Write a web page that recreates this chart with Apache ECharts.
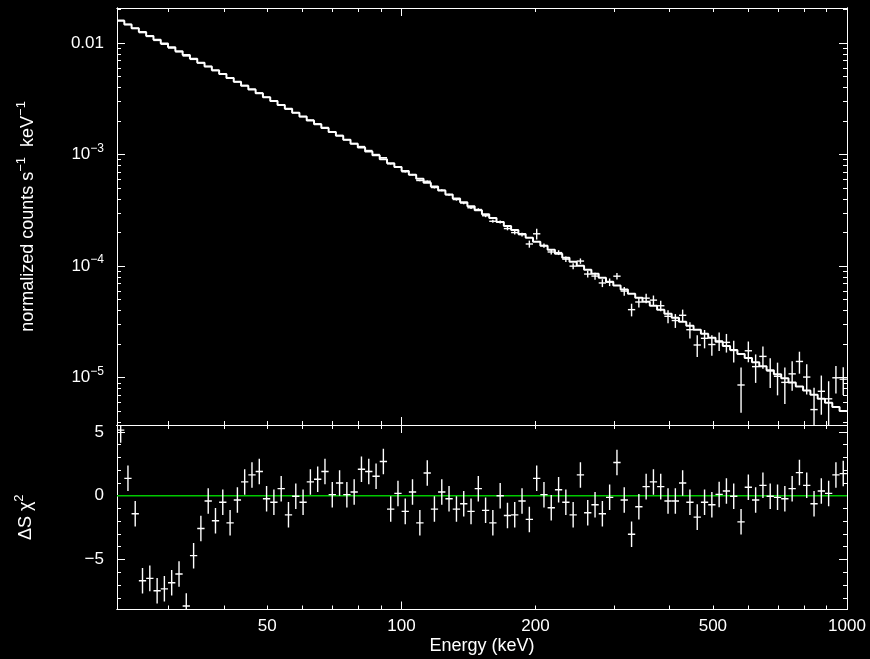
<!DOCTYPE html>
<html><head><meta charset="utf-8">
<script src="https://cdn.jsdelivr.net/npm/echarts@6/dist/echarts.min.js"></script>
<style>html,body{margin:0;padding:0;background:#000;}#c{width:870px;height:659px;}</style>
</head><body><div id="c"></div>
<script>
// Bin centre energies (keV)
const energy = [23.44,24.34,25.27,26.24,27.25,28.30,29.38,30.51,31.69,32.90,
34.17,35.48,36.85,38.26,39.73,41.26,42.85,44.49,46.20,47.98,
49.82,51.74,53.73,55.79,57.94,60.16,62.48,64.88,67.37,69.96,
72.65,75.44,78.34,81.35,84.48,87.73,91.10,94.62,98.24,102.0,
105.9,110.0,114.3,118.6,123.2,127.9,132.9,138.0,143.3,148.8,
154.5,160.4,166.6,173.0,179.6,186.5,193.7,201.2,208.9,216.9,
225.3,233.9,242.9,252.2,261.9,272.0,282.5,293.3,304.6,316.3,
328.5,341.1,354.2,367.8,381.9,396.6,411.9,427.7,444.1,461.2,
479.0,497.4,516.5,536.3,556.9,578.4,600.6,623.7,647.6,672.5,
698.4,725.3,753.2,782.1,812.1,843.4,875.8,909.5,944.4,980.8];

// Folded model (normalized counts s^-1 keV^-1)
const model = [0.01585,0.01465,0.01355,0.01253,0.01158,0.01070,0.009895,0.009150,0.008455,0.007812,
0.007219,0.006672,0.006167,0.005697,0.005264,0.004862,0.004492,0.004148,0.003834,0.003540,
0.003268,0.003019,0.002788,0.002574,0.002377,0.002195,0.002026,0.001870,0.001727,0.001594,
0.001472,0.001358,0.001253,0.001157,0.001067,0.0009847,0.0009085,0.0008381,0.0007734,0.0007136,
0.0006580,0.0006068,0.0005598,0.0005164,0.0004763,0.0004391,0.0004048,0.0003733,0.0003442,0.0003173,
0.0002924,0.0002696,0.0002485,0.0002291,0.0002112,0.0001946,0.0001793,0.0001652,0.0001523,0.0001403,
0.0001292,0.0001190,0.0001096,0.0001010,0.00009307,0.00008570,0.00007889,0.00007264,0.00006692,0.00006163,
0.00005673,0.00005223,0.00004807,0.00004428,0.00004075,0.00003750,0.00003451,0.00003177,0.00002924,0.00002691,
0.00002475,0.00002278,0.00002096,0.00001929,0.00001774,0.00001632,0.00001501,0.00001380,0.00001269,0.00001168,
0.00001074,0.000009872,0.000009076,0.000008346,0.000007674,0.000007056,0.000006485,0.000005961,0.000005480,0.000005035];

// Observed data points
const counts = [0.01596,0.01468,0.01352,0.01239,0.01145,0.01055,0.009753,0.009020,0.008340,0.007653,
0.007134,0.006627,0.006160,0.005663,0.005255,0.004827,0.004487,0.004165,0.003859,0.003569,
0.003264,0.003011,0.002796,0.002553,0.002376,0.002188,0.002040,0.001887,0.001751,0.001595,
0.001484,0.001359,0.001256,0.001181,0.001088,0.001002,0.0009377,0.0008269,0.0007753,0.0007010,
0.0006609,0.0005858,0.0005769,0.0005065,0.0004790,0.0004369,0.0003955,0.0003678,0.0003337,0.0003219,
0.0002830,0.0002526,0.0002485,0.0002172,0.0002000,0.0001915,0.0001580,0.0001950,0.0001529,0.0001340,
0.0001323,0.0001156,0.0001001,0.0001111,0.00008498,0.00008150,0.00007069,0.00007190,0.00008130,0.00005979,
0.00004076,0.00004773,0.00005166,0.00004962,0.00004418,0.00003551,0.00003257,0.00003629,0.00002694,0.00001965,
0.00002256,0.00001985,0.00002136,0.00002075,0.00001755,0.000008609,0.00001744,0.00001258,0.00001553,0.00001151,
0.00001030,0.000009088,0.00001083,0.00001399,0.00001014,0.000005182,0.000007560,0.000006471,0.000009992,0.000009708];

const countsErr = [0.0000216,0.0000212,0.0000209,0.0000205,0.0000201,0.0000197,0.0000194,0.0000190,0.0000187,0.0000184,
0.0000180,0.0000177,0.0000174,0.0000170,0.0000167,0.0000164,0.0000161,0.0000158,0.0000155,0.0000152,
0.0000149,0.0000146,0.0000144,0.0000141,0.0000138,0.0000135,0.0000133,0.0000130,0.0000128,0.0000125,
0.0000123,0.0000120,0.0000118,0.0000116,0.0000113,0.0000111,0.0000109,0.0000107,0.0000105,0.0000102,
0.00001004,0.00000984,0.00000963,0.00000944,0.00000925,0.00000906,0.00000887,0.00000869,0.00000851,0.00000833,
0.00000816,0.00000799,0.00000782,0.00000766,0.00000750,0.00000734,0.00001150,0.00002190,0.00000688,0.00000673,
0.00000659,0.00000645,0.00000631,0.00000617,0.00000604,0.00000591,0.00000578,0.00000565,0.00000553,0.00000541,
0.00000529,0.00000517,0.00000506,0.00000495,0.00000484,0.00000473,0.00000462,0.00000452,0.00000442,0.00000432,
0.00000422,0.00000413,0.00000403,0.00000394,0.00000385,0.00000376,0.00000368,0.00000359,0.00000350,0.00000343,
0.00000335,0.00000327,0.00000319,0.00000312,0.00000305,0.00000297,0.00000290,0.00000283,0.00000277,0.00000270];

// Residuals (ΔS χ²)
const resid = [5.14,1.36,-1.42,-6.67,-6.48,-7.45,-7.30,-6.82,-6.14,-8.64,
-4.70,-2.57,-0.42,-1.97,-0.52,-2.13,-0.34,1.08,1.63,1.89,
-0.24,-0.52,0.55,-1.50,-0.05,-0.52,1.08,1.29,1.89,0.08,
1.00,0.08,0.29,2.07,1.89,1.52,2.68,-1.05,0.18,-1.23,
0.29,-2.13,1.78,-1.05,0.29,-0.24,-1.05,-0.63,-1.23,0.55,
-1.15,-2.13,0.00,-1.55,-1.50,-0.42,-1.86,1.36,0.08,-0.94,
0.47,-0.52,-1.50,1.63,-1.34,-0.71,-1.42,-0.13,2.60,-0.34,
-3.02,-0.87,0.71,1.08,0.71,-0.42,-0.42,1.00,-0.52,-1.68,
-0.52,-0.71,0.10,0.37,-0.05,-2.05,0.66,-0.34,0.81,-0.05,
-0.13,-0.24,0.55,1.81,0.81,-0.63,0.37,0.18,1.63,1.73];
const residErr = [1,1,1,1,1,1,1,1,1,1, 1,1,1,1,1,1,1,1,1,1, 1,1,1,1,1,1,1,1,1,1, 1,1,1,1,1,1,1,1,1,1,
1,1,1,1,1,1,1,1,1,1, 1,1,1,1,1,1,1,1,1,1, 1,1,1,1,1,1,1,1,1,1, 1,1,1,1,1,1,1,1,1,1,
1,1,1,1,1,1,1,1,1,1, 1,1,1,1,1,1,1,1,1,1];

// Axis ticks / labels
const xLabelValues = [50, 100, 200, 500, 1000];
const xMajorTicks = [100, 1000];
const xMinorTicks = [30,40,50,60,70,80,90,200,300,400,500,600,700,800,900];
const yTopLabelValues = [0.00001, 0.0001, 0.001, 0.01];
const yTopMajorTicks = [0.00001, 0.0001, 0.001, 0.01];
const yTopMinorTicks = [0.000004,0.000005,0.000006,0.000007,0.000008,0.000009,
  0.00002,0.00003,0.00004,0.00005,0.00006,0.00007,0.00008,0.00009,
  0.0002,0.0003,0.0004,0.0005,0.0006,0.0007,0.0008,0.0009,
  0.002,0.003,0.004,0.005,0.006,0.007,0.008,0.009,0.02];
const yBotLabelValues = [-5, 0, 5];
const yBotMajorTicks = [-5, 0, 5];
const yBotMinorTicks = [-8,-7,-6,-4,-3,-2,-1,1,2,3,4];

const X_MIN = 23, X_MAX = 1000;
const Y1_MIN = 0.00000377, Y1_MAX = 0.0206;
const Y2_MIN = -8.92, Y2_MAX = 5.54;

const FG = '#ffffff';
const FONT = '"Liberation Sans", Arial, Helvetica, sans-serif';

// bin edges from centres
const n = energy.length;
const edges = [];
for (let i = 0; i <= n; i++) {
  if (i === 0) edges.push(energy[0] * Math.sqrt(energy[0] / energy[1]));
  else if (i === n) edges.push(energy[n-1] * Math.sqrt(energy[n-1] / energy[n-2]));
  else edges.push(Math.sqrt(energy[i-1] * energy[i]));
}
const stepPts = [];
for (let i = 0; i < n; i++) stepPts.push([edges[i], model[i]]);
stepPts.push([edges[n], model[n-1]]);

const topCross = energy.map((e, i) => [e, edges[i], edges[i+1], counts[i], Math.max(counts[i]-countsErr[i], 1e-9), counts[i]+countsErr[i]]);
const botCross = energy.map((e, i) => [e, edges[i], edges[i+1], resid[i], resid[i]-residErr[i], resid[i]+residErr[i]]);

function crossRender(color, w) {
  return function (params, api) {
    const x = api.value(0), lo = api.value(1), hi = api.value(2);
    const y = api.value(3), ylo = api.value(4), yhi = api.value(5);
    const a = api.coord([lo, y]), b = api.coord([hi, y]);
    const c = api.coord([x, ylo]), d = api.coord([x, yhi]);
    return { type: 'group', children: [
      { type: 'line', shape: { x1: a[0], y1: a[1], x2: b[0], y2: b[1] }, style: { stroke: color, lineWidth: w } },
      { type: 'line', shape: { x1: c[0], y1: c[1], x2: d[0], y2: d[1] }, style: { stroke: color, lineWidth: w } }
    ]};
  };
}

function axisBase(type, grid, pos, min, max, ticks, len, extra) {
  const ax = {
    type: type, gridIndex: grid, position: pos, min: min, max: max,
    axisLine: { show: true, onZero: false, lineStyle: { color: FG, width: 1 } },
    axisTick: { show: true, inside: true, length: len, customValues: ticks, lineStyle: { color: FG, width: 1 } },
    axisLabel: { show: false },
    splitLine: { show: false },
    minorTick: { show: false }, minorSplitLine: { show: false }
  };
  if (type === 'log') ax.logBase = 10;
  return Object.assign(ax, extra || {});
}

const richSup = {
  b: { fontSize: 17, fontFamily: FONT, color: FG, lineHeight: 24 },
  sup: { fontSize: 12, fontFamily: FONT, color: FG, lineHeight: 13, verticalAlign: 'top' }
};

const xAxes = [
  axisBase('log', 0, 'bottom', X_MIN, X_MAX, xMinorTicks, 4),
  axisBase('log', 0, 'bottom', X_MIN, X_MAX, xMajorTicks, 8),
  axisBase('log', 0, 'top', X_MIN, X_MAX, xMinorTicks, 4),
  axisBase('log', 0, 'top', X_MIN, X_MAX, xMajorTicks, 8),
  axisBase('log', 1, 'bottom', X_MIN, X_MAX, xMinorTicks, 4, {
    axisLabel: { show: true, customValues: xLabelValues, color: FG, fontSize: 17, fontFamily: FONT, margin: 8,
      formatter: v => String(Math.round(v)) },
    name: 'Energy (keV)', nameLocation: 'middle', nameGap: 28,
    nameTextStyle: { color: FG, fontSize: 18, fontFamily: FONT }
  }),
  axisBase('log', 1, 'bottom', X_MIN, X_MAX, xMajorTicks, 8),
  axisBase('log', 1, 'top', X_MIN, X_MAX, xMinorTicks, 4),
  axisBase('log', 1, 'top', X_MIN, X_MAX, xMajorTicks, 8)
];

const yAxes = [
  axisBase('log', 0, 'left', Y1_MIN, Y1_MAX, yTopMinorTicks, 4),
  axisBase('log', 0, 'left', Y1_MIN, Y1_MAX, yTopMajorTicks, 8, {
    axisLabel: { show: true, customValues: yTopLabelValues, color: FG, margin: 13, rich: richSup,
      formatter: v => {
        if (Math.abs(v - 0.01) < 1e-9) return '{b|0.01}';
        const e = Math.round(Math.log10(v));
        return '{b|10}{sup|−' + (-e) + '}';
      } },
    name: 'normalized counts s{sup|−1}  keV{sup|−1}', nameLocation: 'middle', nameGap: 76,
    nameTextStyle: { color: FG, fontSize: 18, fontFamily: FONT, lineHeight: 26,
      rich: { sup: { fontSize: 13, fontFamily: FONT, color: FG, lineHeight: 14, verticalAlign: 'top' } } }
  }),
  axisBase('log', 0, 'right', Y1_MIN, Y1_MAX, yTopMinorTicks, 4),
  axisBase('log', 0, 'right', Y1_MIN, Y1_MAX, yTopMajorTicks, 8),
  axisBase('value', 1, 'left', Y2_MIN, Y2_MAX, yBotMinorTicks, 4),
  axisBase('value', 1, 'left', Y2_MIN, Y2_MAX, yBotMajorTicks, 8, {
    axisLabel: { show: true, customValues: yBotLabelValues, color: FG, fontSize: 17, fontFamily: FONT, margin: 13,
      formatter: v => (v < 0 ? '−' + (-v) : String(v)) },
    name: 'ΔS χ{sup|2}', nameLocation: 'middle', nameGap: 78,
    nameTextStyle: { color: FG, fontSize: 18, fontFamily: FONT, lineHeight: 26,
      rich: { sup: { fontSize: 13, fontFamily: FONT, color: FG, lineHeight: 14, verticalAlign: 'top' } } }
  }),
  axisBase('value', 1, 'right', Y2_MIN, Y2_MAX, yBotMinorTicks, 4),
  axisBase('value', 1, 'right', Y2_MIN, Y2_MAX, yBotMajorTicks, 8)
];

const chart = echarts.init(document.getElementById('c'), null, { renderer: 'canvas' });
chart.setOption({
  backgroundColor: '#000000',
  animation: false,
  grid: [
    { left: 117, top: 8, width: 730, height: 417 },
    { left: 117, top: 425, width: 730, height: 184.5 }
  ],
  xAxis: xAxes,
  yAxis: yAxes,
  series: [
    { type: 'line', xAxisIndex: 0, yAxisIndex: 0, data: stepPts, step: 'end', symbol: 'none',
      lineStyle: { color: FG, width: 2 }, z: 3, silent: true },
    { type: 'custom', xAxisIndex: 0, yAxisIndex: 0, data: topCross, clip: true,
      encode: { x: [0, 1, 2], y: [3, 4, 5] }, renderItem: crossRender('#ffffff', 1.4), z: 4, silent: true },
    { type: 'line', xAxisIndex: 4, yAxisIndex: 4, data: [[X_MIN, 0], [X_MAX, 0]], symbol: 'none',
      lineStyle: { color: '#00c800', width: 1.5 }, z: 2, silent: true },
    { type: 'custom', xAxisIndex: 4, yAxisIndex: 4, data: botCross, clip: true,
      encode: { x: [0, 1, 2], y: [3, 4, 5] }, renderItem: crossRender('#ffffff', 1.4), z: 4, silent: true }
  ]
});
</script></body></html>
